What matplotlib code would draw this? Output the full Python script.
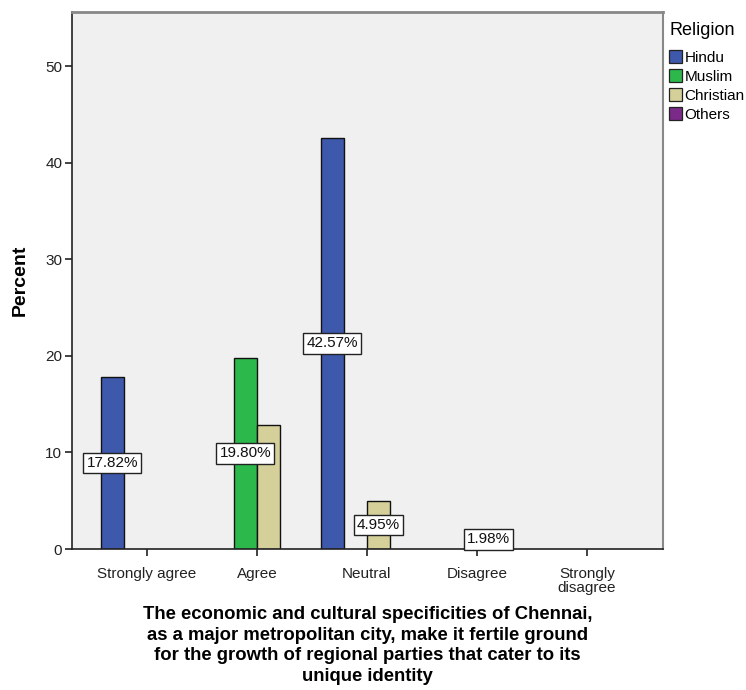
import numpy as np
import matplotlib
matplotlib.use('Agg')
from matplotlib import pyplot as plt
from matplotlib.patches import Patch

plt.rcParams['font.family'] = ['Liberation Sans', 'DejaVu Sans']

categories = ['Strongly agree', 'Agree', 'Neutral', 'Disagree', 'Strongly\ndisagree']
religions = ['Hindu', 'Muslim', 'Christian', 'Others']
colors = ['#3e58ac', '#2db84c', '#d5cf9a', '#7b2a8a']

# bar heights (percent) per religion, one value per category
hindu = [17.82, 0, 42.57, 0, 0]
muslim = [0, 19.80, 0, 0, 0]
christian = [0, 12.87, 4.95, 0.15, 0]
others = [0, 0, 0, 0, 0]
series = [hindu, muslim, christian, others]

# boxed labels: (category index, religion index, label text, label value)
labels = [(0, 0, '17.82%', 17.82), (1, 1, '19.80%', 19.80), (2, 0, '42.57%', 42.57),
          (2, 2, '4.95%', 4.95), (3, 2, '1.98%', 1.98)]

fig = plt.figure(figsize=(7.46, 6.90), dpi=100)
ax = fig.add_axes([0.0965, 0.2043, 0.7922, 0.7783])
ax.set_facecolor('#f0f0f0')

x = np.arange(len(categories))
w = 0.21
for i, vals in enumerate(series):
    xs = x + (i - 1.5) * w
    for xi, v in zip(xs, vals):
        if v > 0:
            ax.bar(xi, v, width=w, color=colors[i], edgecolor='#111111', linewidth=1.0, zorder=2)

for ci, ri, txt, v in labels:
    ax.text(x[ci] + (ri - 1.5) * w, v / 2, txt, ha='center', va='center', fontsize=11, zorder=3,
            color='#111111',
            bbox=dict(boxstyle='square,pad=0.22', facecolor='white', edgecolor='#222222', linewidth=1.0))

ax.set_xlim(-0.68, 4.69)
ax.set_ylim(0, 55.6)
ax.set_yticks([0, 10, 20, 30, 40, 50])
ax.set_xticks(x)
ax.set_xticklabels(categories, fontsize=11, color='#222222', linespacing=0.95)
ax.tick_params(axis='y', labelsize=11, length=5, width=1.2, color='#222222', labelcolor='#222222', pad=2)
ax.tick_params(axis='x', length=5, width=1.2, color='#222222', pad=8)

ax.spines['left'].set_color('#222222')
ax.spines['bottom'].set_color('#222222')
ax.spines['left'].set_linewidth(1.2)
ax.spines['bottom'].set_linewidth(1.2)
ax.spines['top'].set_color('#888888')
ax.spines['right'].set_color('#888888')
ax.spines['top'].set_linewidth(2)
ax.spines['right'].set_linewidth(1.5)

ax.set_ylabel('Percent', fontsize=14, fontweight='bold', labelpad=12)
ax.set_xlabel('The economic and cultural specificities of Chennai,\n'
              'as a major metropolitan city, make it fertile ground\n'
              'for the growth of regional parties that cater to its\n'
              'unique identity', fontsize=13.3, fontweight='bold', linespacing=1.3, labelpad=8)

handles = [Patch(facecolor=c, edgecolor='#222222', linewidth=0.9) for c in colors]
leg = fig.legend(handles, religions, loc='upper left', bbox_to_anchor=(0.893, 0.972),
                 frameon=False, fontsize=11, title='Religion', title_fontsize=13,
                 handlelength=0.85, handleheight=0.85, handletextpad=0.15, labelspacing=0.3,
                 borderaxespad=0, borderpad=0.2)
leg._legend_box.align = 'left'
leg._legend_box.sep = 8

plt.savefig('out.png', dpi=100)
plt.close()
